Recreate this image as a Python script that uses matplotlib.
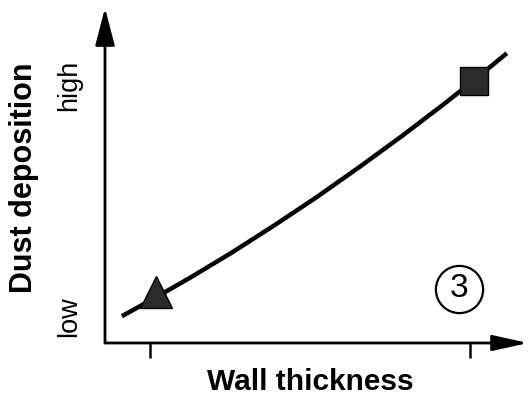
import matplotlib
matplotlib.use('Agg')
import matplotlib.pyplot as plt

# schematic curve: dust deposition vs wall thickness (arbitrary units)
curve_x = [0.4, 1.2, 2.0, 3.0, 4.0, 5.0, 6.0, 7.0, 8.0, 8.7, 9.5]
curve_y = [0.80, 1.36, 1.94, 2.70, 3.51, 4.35, 5.24, 6.16, 7.12, 7.82, 8.65]

# the two marked cases
thin_x, thin_y = 1.21, 1.52
thick_x, thick_y = 8.72, 7.82

tick_positions = [1.06, 8.63]
y_labels = ['low', 'high']
y_label_pos = [0.8, 7.7]
panel_label = '3'

plt.rcParams['font.family'] = ['Liberation Sans', 'DejaVu Sans']

fig = plt.figure(figsize=(5.31, 3.97), dpi=100)
ax = fig.add_axes([105 / 531, 54 / 397, 423 / 531, 335 / 397])
ax.set_xlim(0, 10)
ax.set_ylim(0, 10)
for s in ax.spines.values():
    s.set_visible(False)

# axes with arrow heads
ax.annotate('', xy=(0, 1), xytext=(0, 0), xycoords='axes fraction',
            arrowprops=dict(arrowstyle='-|>,head_length=1.15,head_width=0.3',
                            mutation_scale=20, lw=2, color='black',
                            shrinkA=0, shrinkB=0))
ax.annotate('', xy=(1, 0), xytext=(0, 0), xycoords='axes fraction',
            arrowprops=dict(arrowstyle='-|>,head_length=1.08,head_width=0.24',
                            mutation_scale=20, lw=2, color='black',
                            shrinkA=0, shrinkB=0))

ax.set_xticks(tick_positions)
ax.set_xticklabels([])
ax.tick_params(axis='x', direction='out', length=11, width=1.8, color='black')
ax.set_yticks([])

ax.plot(curve_x, curve_y, color='black', lw=3.2, solid_capstyle='butt',
        solid_joinstyle='round', zorder=2)
ax.plot(thin_x, thin_y, marker='^', markersize=23, color='#2b2b2b',
        markeredgecolor='black', markeredgewidth=1, zorder=3)
ax.plot(thick_x, thick_y, marker='s', markersize=20, color='#2b2b2b',
        markeredgecolor='black', markeredgewidth=1, zorder=3)

# circled panel number
ax.plot(8.37, 1.6, marker='o', markersize=34, markerfacecolor='none',
        markeredgecolor='black', markeredgewidth=1.6, clip_on=False)
ax.text(8.37, 1.62, panel_label, fontsize=24, ha='center', va='center')

for lab, yp in zip(y_labels, y_label_pos):
    ax.text(-0.085, yp, lab, transform=ax.get_yaxis_transform(),
            rotation=90, fontsize=19.5, ha='center', va='center')

fig.text(24 / 531, 1 - 178 / 397, 'Dust deposition', rotation=90,
         fontsize=22, fontweight='bold', ha='center', va='center')
fig.text(310 / 531, 1 - 382 / 397, 'Wall thickness',
         fontsize=21.5, fontweight='bold', ha='center', va='center')

fig.savefig('out.png', dpi=100)
